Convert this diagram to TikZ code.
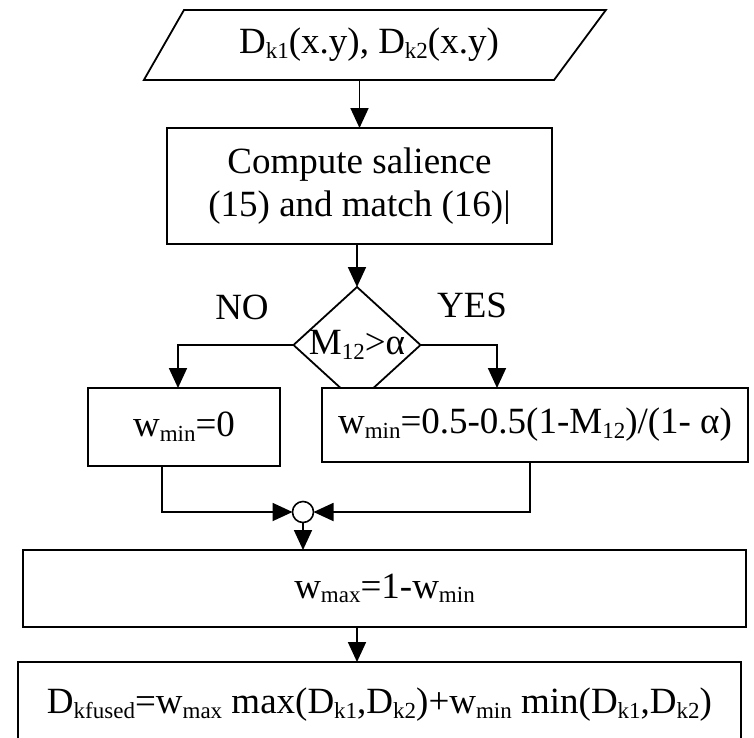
\documentclass[tikz,border=0pt]{standalone}
\usepackage{fontspec}
\setmainfont{Liberation Serif}
\usepackage{tikz}
\usetikzlibrary{shapes.geometric, arrows.meta}
\newcommand{\sbs}[1]{\raisebox{-0.28ex}{\fontsize{23}{23}\selectfont #1}}
\tikzset{
  io/.style={trapezium, trapezium left angle=40, trapezium right angle=147,
             trapezium stretches body=true, draw=black, line width=1.8pt,
             minimum width=462pt, minimum height=70pt, inner sep=0pt, outer sep=0pt},
  block/.style={rectangle, draw=black, fill=white, line width=2.2pt,
                inner sep=0pt, outer sep=0pt, align=center},
  decision/.style={diamond, draw=black, line width=1.8pt, minimum width=127pt,
                   minimum height=116pt, inner sep=0pt, outer sep=0pt},
  junction/.style={circle, draw=black, line width=1.6pt, minimum size=21pt,
                   inner sep=0pt, outer sep=0pt},
  arrow/.style={-{Triangle[length=20pt, width=18pt]}, draw=black, line width=1.8pt},
  tag/.style={inner sep=0pt},
}

\begin{document}
\begin{tikzpicture}[x=1pt, y=-1pt, font=\fontsize{37}{43}\selectfont]
  \useasboundingbox (0,0) rectangle (754,737);

  % Nodes
  \node[io] (input) at (369,45) {D\sbs{k1}(x.y), D\sbs{k2}(x.y)};
  \node[block, minimum width=385pt, minimum height=116pt] (salience) at (359.5,186)
       {Compute salience\\(15) and match (16)|};
  \node[decision] (test) at (357,345) {};
  \node[tag] (cond) at (test.center) {M\sbs{12}>α};
  \node[tag] (no) at (242,307) {NO};
  \node[tag] (yes) at (472,305) {YES};
  \node[block, minimum width=192pt, minimum height=78pt] (zero) at (184,427) {w\sbs{min}=0};
  \node[block, minimum width=426pt, minimum height=74pt] (weight) at (535,425)
       {w\sbs{min}=0.5-0.5(1-M\sbs{12})/(1- α)};
  \node[junction] (merge) at (303,512) {};
  \node[block, minimum width=723pt, minimum height=77pt] (wmax) at (384.5,588.5)
       {w\sbs{max}=1-w\sbs{min}};
  \node[block, minimum width=723pt, minimum height=86pt] (fused) at (379.5,705)
       {D\sbs{kfused}=w\sbs{max} max(D\sbs{k1},D\sbs{k2})+w\sbs{min} min(D\sbs{k1},D\sbs{k2})};

  % Edges
  \draw[arrow] (input.south -| salience.north) -- (salience.north);
  \draw[arrow] (salience.south -| test.north) -- (test.north);
  \draw[arrow] (test.west) -| ([xshift=-6]zero.north);
  \draw[arrow] (test.east) -| ([xshift=-38]weight.north);

  % both branches meet at the small circle
  \draw[arrow] ([xshift=-22]zero.south) |- (merge.west);
  \draw[arrow] ([xshift=-5]weight.south) |- (merge.east);
  \draw[arrow] (merge.south) -- (merge.south |- wmax.north);
  \draw[arrow] ([xshift=-27.5]wmax.south) -- ([xshift=-27.5]wmax.south |- fused.north);

\end{tikzpicture}
\end{document}
